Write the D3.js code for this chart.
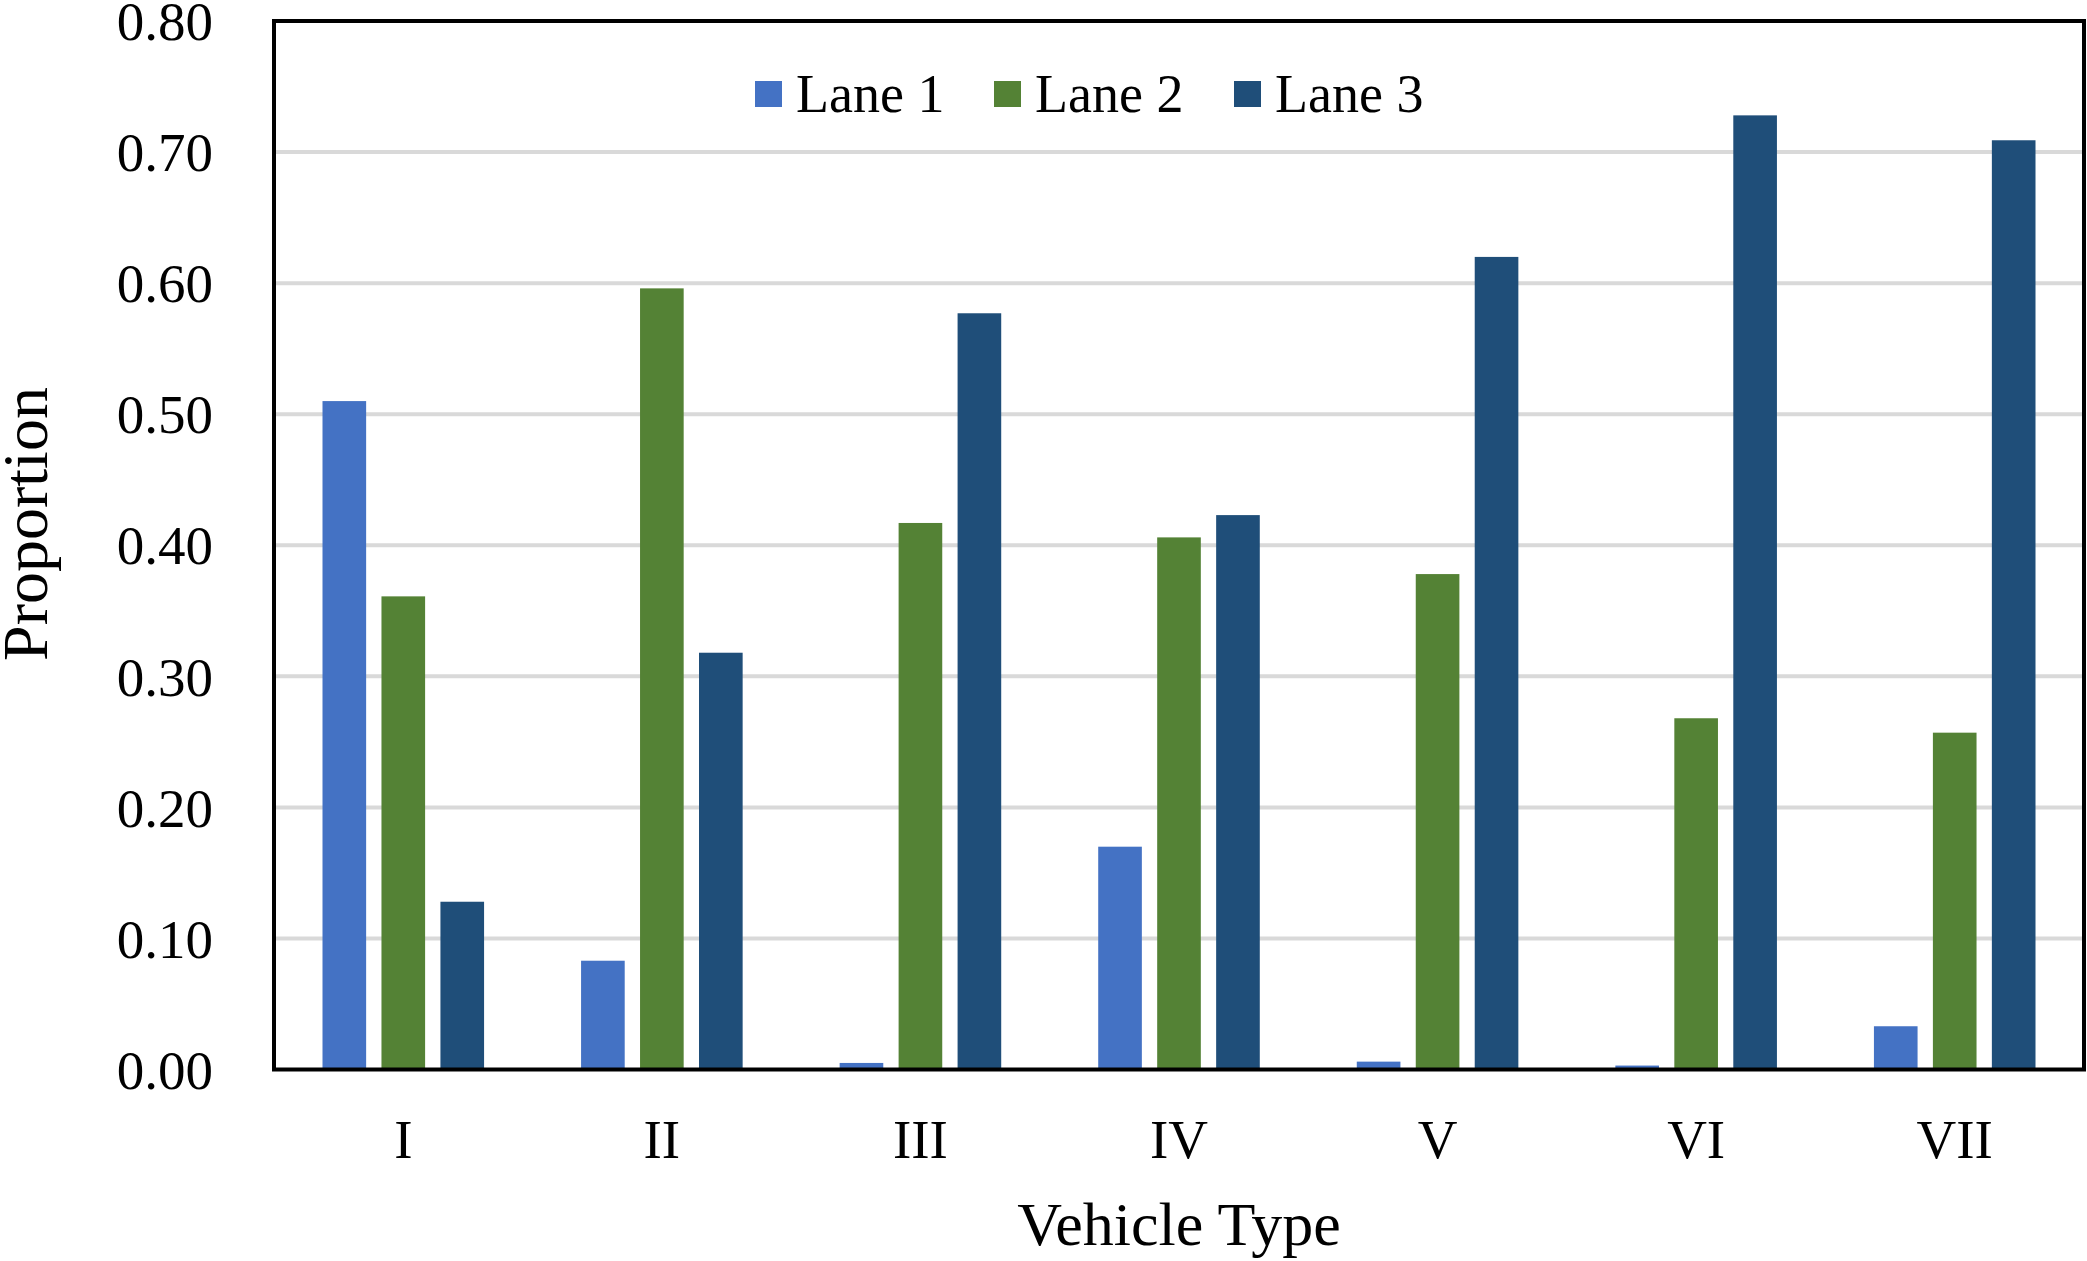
<!DOCTYPE html>
<html>
<head>
<meta charset="utf-8">
<script src="https://cdn.jsdelivr.net/npm/d3@7"></script>
<style>
  html, body { margin: 0; padding: 0; background: #ffffff; }
  svg { display: block; }
  text { font-family: "Liberation Serif", "Times New Roman", serif; fill: #000; }
</style>
</head>
<body>
<svg id="chart" width="2087" height="1261"></svg>
<script>
const categories = ["I", "II", "III", "IV", "V", "VI", "VII"];
const seriesNames = ["Lane 1", "Lane 2", "Lane 3"];
const lane1 = [0.510, 0.083, 0.005, 0.170, 0.006, 0.003, 0.033];
const lane2 = [0.361, 0.596, 0.417, 0.406, 0.378, 0.268, 0.257];
const lane3 = [0.128, 0.318, 0.577, 0.423, 0.620, 0.728, 0.709];
const colors = ["#4472C4", "#548235", "#1F4E79"];
const yTicks = [0, 0.1, 0.2, 0.3, 0.4, 0.5, 0.6, 0.7, 0.8];

const seriesValues = [lane1, lane2, lane3];

(function () {
const svg = d3.select("#chart");
const pLeft = 274, pRight = 2084, pTop = 21, pBottom = 1069.5;

const x = d3.scaleBand().domain(categories).range([pLeft, pRight]).paddingInner(0).paddingOuter(0);
const groupPad = 48.5;
const x1 = d3.scaleBand().domain(seriesNames)
  .range([groupPad, x.bandwidth() - groupPad]).paddingInner(0.26).paddingOuter(0);
const y = d3.scaleLinear().domain([0, 0.8]).range([pBottom, pTop]);

// gridlines
svg.append("g").selectAll("line").data(yTicks.filter(t => t > 0 && t < 0.8)).join("line")
  .attr("x1", pLeft).attr("x2", pRight)
  .attr("y1", d => y(d)).attr("y2", d => y(d))
  .attr("stroke", "#D9D9D9").attr("stroke-width", 4);

// bars
const groups = svg.append("g").selectAll("g").data(categories).join("g")
  .attr("transform", c => `translate(${x(c)},0)`);
groups.selectAll("rect")
  .data((c, i) => seriesNames.map((s, j) => ({ s, j, v: seriesValues[j][i] })))
  .join("rect")
  .attr("x", d => x1(d.s))
  .attr("width", x1.bandwidth())
  .attr("y", d => y(d.v))
  .attr("height", d => y(0) - y(d.v))
  .attr("fill", d => colors[d.j]);

// plot border
svg.append("rect")
  .attr("x", pLeft).attr("y", pTop)
  .attr("width", pRight - pLeft).attr("height", pBottom - pTop)
  .attr("fill", "none").attr("stroke", "#000").attr("stroke-width", 4);

// y axis labels
const yAxis = d3.axisLeft(y).tickValues(yTicks).tickFormat(d3.format(".2f")).tickSize(0).tickPadding(61);
const gy = svg.append("g").attr("transform", `translate(${pLeft},0)`).call(yAxis);
gy.select(".domain").remove();
gy.selectAll("text").attr("font-size", 55).attr("font-family", "Liberation Serif").attr("fill", "#000").attr("dy", "0.34em");

// x axis labels
const xAxis = d3.axisBottom(x).tickSize(0).tickPadding(0);
const gx = svg.append("g").attr("transform", `translate(0,${pBottom})`).call(xAxis);
gx.select(".domain").remove();
gx.selectAll("text").attr("font-size", 55).attr("font-family", "Liberation Serif").attr("fill", "#000")
  .attr("y", 88).attr("dy", 0);

// axis titles
svg.append("text").attr("x", (pLeft + pRight) / 2).attr("y", 1245)
  .attr("text-anchor", "middle").attr("font-size", 62).text("Vehicle Type");
svg.append("text")
  .attr("transform", `translate(47,524) rotate(-90)`)
  .attr("text-anchor", "middle").attr("font-size", 64).text("Proportion");

// legend
const legendX = [755, 994, 1234];
const leg = svg.append("g").selectAll("g").data(seriesNames).join("g")
  .attr("transform", (d, i) => `translate(${legendX[i]},0)`);
leg.append("rect").attr("x", 0).attr("y", 81).attr("width", 27).attr("height", 26)
  .attr("fill", (d, i) => colors[i]);
leg.append("text").attr("x", 41).attr("y", 112).attr("font-size", 54).text(d => d);
})();
</script>
</body>
</html>
